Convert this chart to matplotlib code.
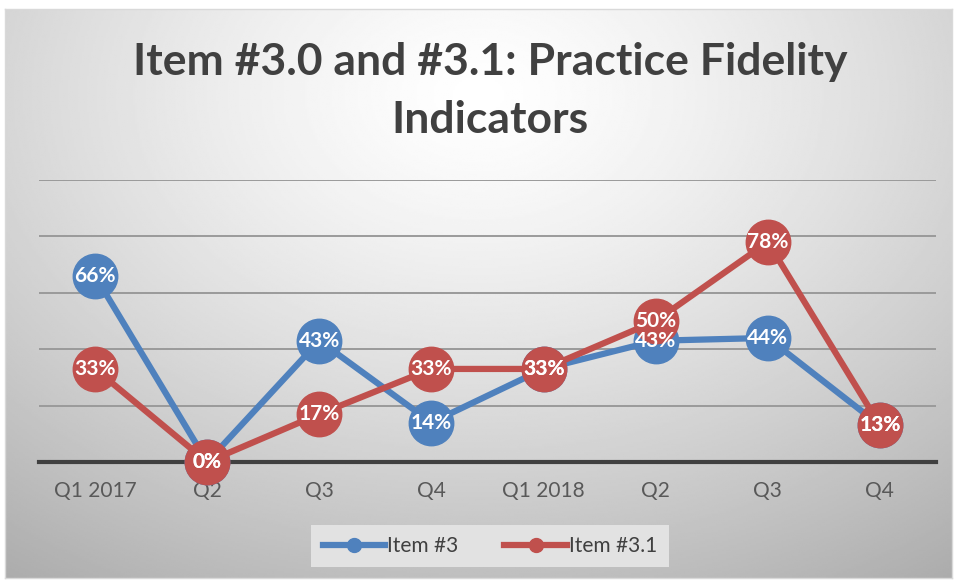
import numpy as np
import matplotlib.pyplot as plt
from matplotlib.lines import Line2D

# chart data
quarters = ["Q1 2017", "Q2", "Q3", "Q4", "Q1 2018", "Q2", "Q3", "Q4"]
item3 = [66, 0, 43, 14, 33, 43, 44, 13]
item31 = [33, 0, 17, 33, 33, 50, 78, 13]
series_names = ["Item #3", "Item #3.1"]

blue = "#4F81BD"
red = "#C0504D"
plt.rcParams['font.family'] = ['Lato', 'DejaVu Sans']

fig = plt.figure(figsize=(9.58, 5.80), dpi=100)
fig.patch.set_facecolor("white")

# radial grey background, like the office chart style
bg = fig.add_axes([5/958, 2/580, 947/958, 569/580])
yy, xx = np.mgrid[0:1:300j, 0:1:500j]
r = np.sqrt(((xx - 0.5) / 0.75) ** 2 + ((yy - 0.15) / 0.9) ** 2)
shade = 1.0 - 0.27 * np.clip(r, 0, 1.2) ** 1.3
bg.imshow(shade, cmap="gray", vmin=0, vmax=1, aspect="auto", extent=[0, 1, 1, 0])
bg.set_xticks([])
bg.set_yticks([])
for s in bg.spines.values():
    s.set_color("#d9d9d9")
    s.set_linewidth(1)

ax = fig.add_axes([39/958, 118/580, 897/958, 282/580])
ax.set_facecolor("none")
x = np.arange(len(quarters))
ax.set_xlim(-0.5, len(quarters) - 0.5)
ax.set_ylim(0, 100)

for g in [20, 40, 60, 80, 100]:
    ax.axhline(g, color="#9a9a9a", lw=1.4, zorder=1)
ax.axhline(0, color="#404040", lw=3, zorder=2, clip_on=False)

ax.plot(x, item3, color=blue, lw=4.5, marker="o", ms=32, zorder=3, clip_on=False)
ax.plot(x, item31, color=red, lw=4.5, marker="o", ms=32, zorder=4, clip_on=False)

for xi, v in zip(x, item3):
    ax.text(xi, v, f"{v}%", color="white", fontsize=15, fontweight="bold",
            ha="center", va="center", zorder=6)
for xi, v in zip(x, item31):
    ax.text(xi, v, f"{v}%", color="white", fontsize=15, fontweight="bold",
            ha="center", va="center", zorder=6)

ax.set_xticks(x)
ax.set_xticklabels(quarters, fontsize=15, color="#595959")
ax.tick_params(axis="x", length=0, pad=14)
ax.set_yticks([])
for s in ax.spines.values():
    s.set_visible(False)

fig.text(490/958, 1 - 62/580, "Item #3.0 and #3.1: Practice Fidelity",
         ha="center", va="center", fontsize=32, fontweight="bold", color="#404040")
fig.text(490/958, 1 - 120/580, "Indicators",
         ha="center", va="center", fontsize=32, fontweight="bold", color="#404040")

handles = [Line2D([], [], color=blue, lw=4.5, marker="o", ms=10),
           Line2D([], [], color=red, lw=4.5, marker="o", ms=10)]
leg = fig.legend(handles, series_names, loc="center",
                 bbox_to_anchor=(490/958, 1 - 546/580), ncol=2, fontsize=15,
                 frameon=True, fancybox=False, handlelength=3.0, handletextpad=0.1,
                 columnspacing=2.2, borderpad=0.55)
leg.get_frame().set_facecolor("#e2e2e2")
leg.get_frame().set_edgecolor("none")
leg.get_frame().set_alpha(1)
for t in leg.get_texts():
    t.set_color("#404040")

fig.savefig("out.png", dpi=100)
